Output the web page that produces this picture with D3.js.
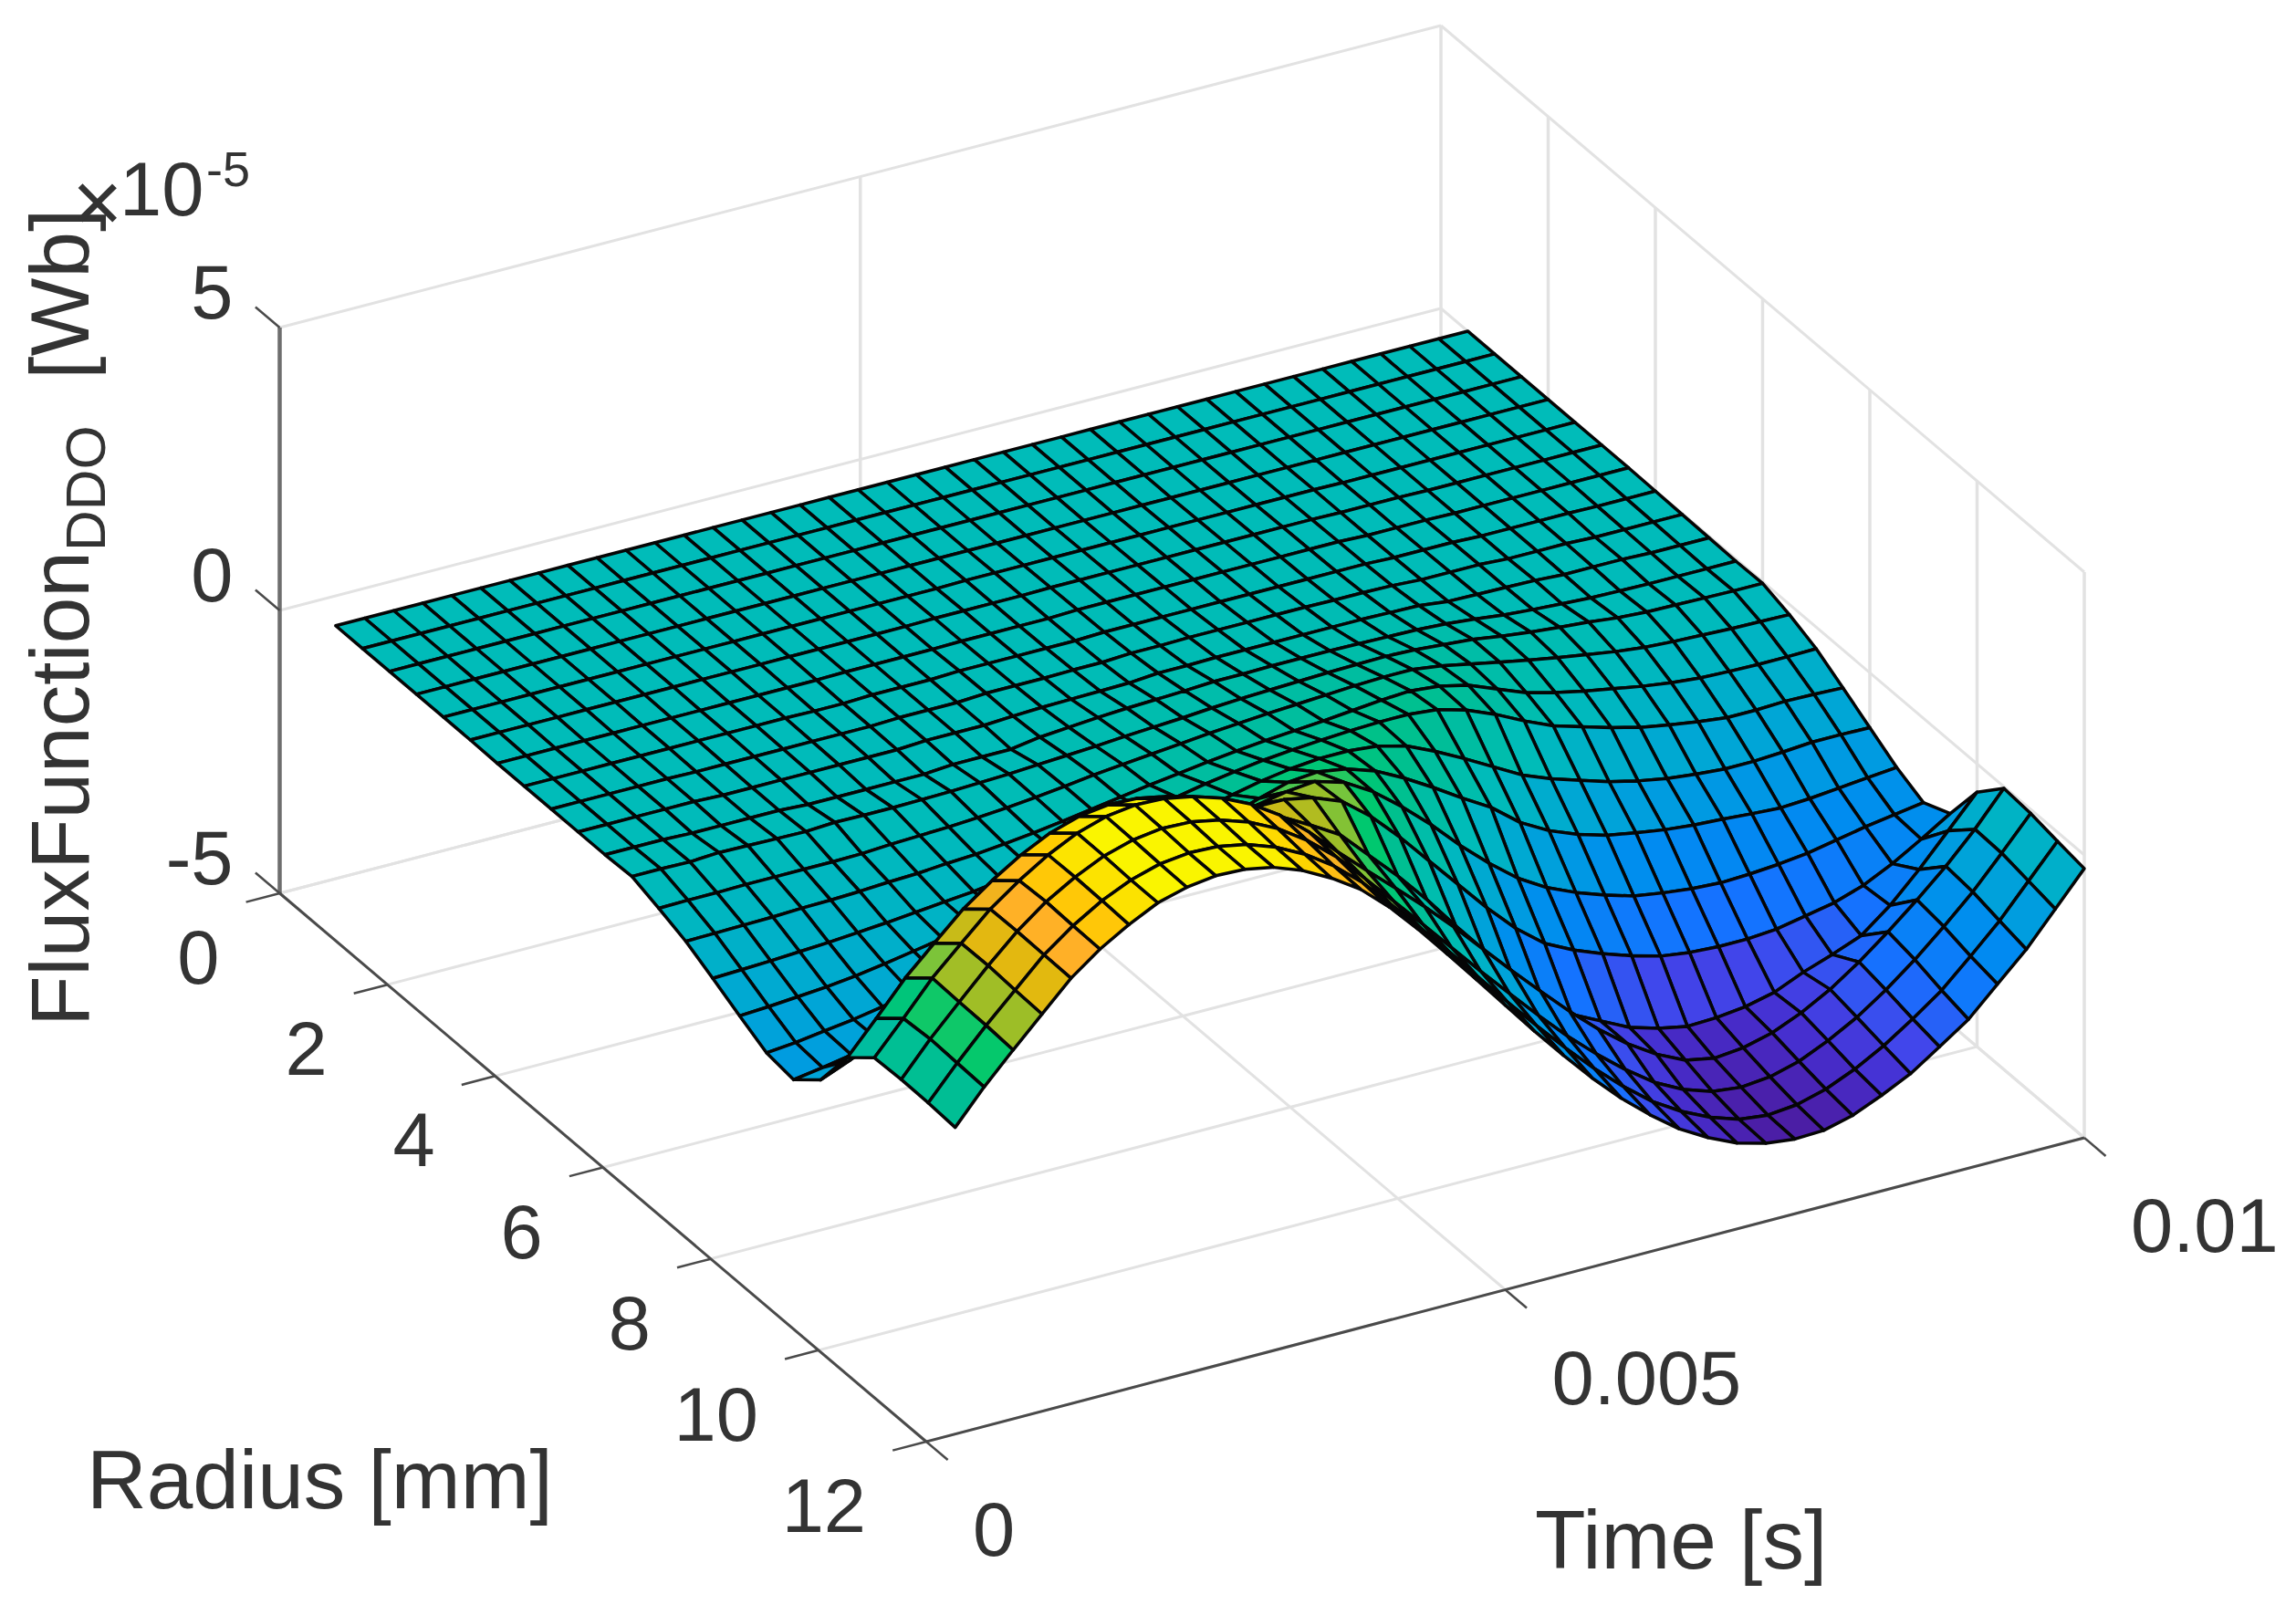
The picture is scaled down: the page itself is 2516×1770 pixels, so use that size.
<!DOCTYPE html>
<html lang='en'>
<head>
<meta http-equiv='Content-Type' content='text/html;charset=utf-8'/>
<title>FluxFunction DDO surface</title>
<script src='https://d3js.org/d3.v7.min.js'></script>
<style>
  body { margin: 0; background: #fff; }
  text { font-family: 'Liberation Sans', Arial, sans-serif; fill: #333; }
</style>
</head>
<body>
<script>
'use strict'
// mesh nodes
const radiusMm = [0.5,1,1.5,2,2.5,3,3.5,4,4.5,5,5.5,6,6.5,7,7.5,8,8.5,9,9.5,10,10.5,11,11.5,12]
const timeSec = [0.00025,0.0005,0.00075,0.001,0.00125,0.0015,0.00175,0.002,0.00225,0.0025,
  0.00275,0.003,0.00325,0.0035,0.00375,0.004,0.00425,0.0045,0.00475,0.005,
  0.00525,0.0055,0.00575,0.006,0.00625,0.0065,0.00675,0.007,0.00725,0.0075,
  0.00775,0.008,0.00825,0.0085,0.00875,0.009,0.00925,0.0095,0.00975,0.01]

// flux in units of 1e-5 Wb, one row per radius, one value per time
const flux = [
  [0,0,0,0,0,0,0,0,0,0,0,0,0,0,0,0,0,0,0,0,0,0,0,0,0,0,0,0,0,0,0,0,0,0,0,0,0,0,0,0],
  [0,0,0,0,0,0,0,0,0,0,0,0,0,0,0,0,0,0,0,0,0,0,0,0,0,0,0,0,0,0,0,0,0,0,0,0,0,0,0,0],
  [0,0,0,0,0,0,0,0,0,0,0,0,0,0,0,0,0,0,0,0,0,0,0,0,0,0,0,0,0,0,0,0,0,0,0,0,0,0,0,0],
  [0,0,0,0,0,0,0,0,0,0,0,0,0,0,0,0,0,0,0,0,0,0,0,0,0,0,0,0,0,0,0,0,0,0,0,0,0,0,0,0],
  [0,0,0,0,0,0,0,0,0,0,0,0,0,0,0,0,0,0,.01,.01,.01,.01,.01,.01,.01,.01,.01,.01,.01,.01,.01,0,0,0,0,0,0,0,0,0],
  [0,0,0,0,0,0,0,0,0,0,0,0,0,0,0,0,.01,.01,.01,.01,.02,.02,.02,.02,.02,.02,.02,.02,.02,.02,.01,.01,.01,0,0,0,0,0,0,0],
  [-.01,-.01,-.01,-.01,-.01,-.01,-.01,-.01,-.01,-.01,-.01,-.01,0,0,0,0,.01,.01,.01,.01,.03,.03,.03,.03,.03,.03,.03,.03,.03,.03,.01,.01,.01,0,0,0,0,0,0,0],
  [-.01,-.01,-.01,-.01,-.01,-.01,-.01,-.01,-.01,-.01,-.02,-.02,0,0,0,.02,.02,.02,.02,.02,.04,.04,.04,.04,.04,.04,.04,.04,.04,.04,.02,.02,.02,0,0,0,0,-.01,-.01,-.01],
  [-.01,-.01,-.01,-.01,-.01,-.02,-.02,-.02,-.02,-.02,-.02,-.02,0,0,0,.03,.03,.03,.04,.04,.07,.07,.08,.08,.08,.08,.08,.07,.07,.06,.03,.03,.03,0,0,0,-.02,-.02,-.02,-.02],
  [-.01,-.01,-.01,-.01,-.01,-.03,-.03,-.03,-.03,-.03,-.03,-.03,0,0,0,.03,.05,.06,.07,.08,.12,.12,.13,.13,.13,.13,.13,.13,.12,.11,.05,.04,.03,.02,-.01,-.01,-.01,-.03,-.03,-.03],
  [-.01,-.01,-.01,-.03,-.03,-.03,-.03,-.06,-.06,-.06,-.06,-.06,-.02,-.02,-.02,.06,.1,.14,.17,.19,.21,.24,.24,.25,.25,.25,.24,.23,.22,.19,.14,.08,.04,.01,-.02,-.03,-.04,-.04,-.04,-.04],
  [.01,.01,0,.03,.02,.01,0,.03,.02,.02,.03,.04,.06,.08,.11,.14,.17,.21,.24,.27,.31,.34,.36,.38,.4,.41,.42,.4,.36,.32,.24,.18,.13,.09,.03,0,-.01,-.02,-.03,-.03],
  [-.15,-.14,-.14,-.13,-.13,-.13,-.13,-.12,-.09,-.07,-.05,-.02,.02,.07,.13,.2,.25,.3,.35,.4,.44,.48,.51,.54,.57,.59,.59,.52,.42,.32,.22,.13,.05,-.03,-.09,-.12,-.14,-.16,-.17,-.18],
  [-.33,-.32,-.31,-.3,-.28,-.27,-.25,-.22,-.2,-.16,-.13,-.08,-.02,.05,.13,.21,.29,.36,.43,.49,.54,.58,.62,.67,.72,.75,.7,.58,.38,.18,.05,-.06,-.15,-.24,-.31,-.36,-.38,-.39,-.39,-.38],
  [-.58,-.56,-.54,-.51,-.48,-.44,-.4,-.35,-.3,-.25,-.18,-.1,0,.12,.25,.37,.48,.58,.66,.73,.78,.82,.85,.87,.87,.82,.68,.47,.22,0,-.15,-.3,-.43,-.52,-.6,-.66,-.66,-.64,-.65,-.67],
  [-.84,-.81,-.77,-.73,-.67,-.59,-.5,-.41,-.31,-.23,-.14,-.03,.1,.24,.38,.52,.66,.79,.9,.98,1.03,1.03,.98,.85,.62,.36,.08,-.2,-.4,-.56,-.72,-.84,-.93,-.99,-1.03,-1.03,-1,-.96,-.96,-.97],
  [-1.09,-1.04,-.97,-.9,-.81,-.69,-.56,-.43,-.3,-.16,0,.14,.28,.44,.6,.78,.96,1.13,1.28,1.33,1.25,1.08,.82,.52,.2,-.1,-.5,-.78,-.98,-1.13,-1.22,-1.3,-1.35,-1.38,-1.42,-1.45,-1.42,-1.37,-1.32,-1.27],
  [-1.16,-1.08,-.99,-.89,-.78,-.59,-.38,-.16,.08,.35,.55,.75,.95,1.13,1.3,1.42,1.55,1.65,1.7,1.55,1.25,.85,.4,-.1,-.55,-.95,-1.25,-1.47,-1.65,-1.8,-1.88,-1.94,-1.97,-1.95,-1.91,-1.85,-1.75,-1.65,-1.57,-1.49],
  [-.76,-.55,-.32,-.07,.2,.48,.78,1.06,1.33,1.57,1.75,1.87,1.9,1.97,2,2.05,2.05,1.95,1.75,1.35,.85,.3,-.25,-.8,-1.3,-1.7,-1.95,-2.15,-2.32,-2.46,-2.53,-2.56,-2.56,-2.52,-2.42,-2.32,-2.15,-1.9,-1.6,-1.28],
  [.04,.6,1.18,1.66,2.13,2.5,2.82,3.07,3.23,3.3,3.28,3.18,3,2.78,2.52,2.28,2,1.7,1.2,.7,.15,-.45,-1.05,-1.65,-2.15,-2.55,-2.8,-3.05,-3.2,-3.3,-3.28,-3.22,-3.1,-2.88,-2.7,-2.5,-2.1,-1.6,-1.05,-.5],
  [.44,1,1.58,2.06,2.53,2.9,3.22,3.47,3.63,3.7,3.68,3.58,3.42,3.18,2.85,2.42,1.93,1.47,1.02,.56,.07,-.45,-.97,-1.47,-1.96,-2.41,-2.8,-3.12,-3.36,-3.46,-3.41,-3.28,-3.06,-2.78,-2.43,-2.03,-1.6,-1.14,-.62,-.03],
  [.46,1.04,1.56,2.07,2.54,2.93,3.23,3.47,3.62,3.69,3.67,3.57,3.4,3.15,2.81,2.39,1.87,1.33,.79,.24,-.31,-.84,-1.36,-1.86,-2.31,-2.72,-3.08,-3.34,-3.51,-3.57,-3.52,-3.38,-3.15,-2.87,-2.52,-2.12,-1.67,-1.19,-.64,-.07],
  [.45,1.02,1.55,2.04,2.53,2.91,3.22,3.45,3.6,3.66,3.64,3.54,3.36,3.1,2.76,2.33,1.8,1.26,.7,.12,-.45,-1,-1.53,-2.03,-2.48,-2.88,-3.19,-3.43,-3.6,-3.66,-3.61,-3.47,-3.25,-2.97,-2.63,-2.26,-1.79,-1.3,-.73,-.16],
  [.42,1,1.52,2.02,2.52,2.9,3.2,3.45,3.59,3.66,3.64,3.54,3.35,3.08,2.75,2.3,1.77,1.2,.62,.03,-.56,-1.12,-1.66,-2.15,-2.58,-2.96,-3.25,-3.48,-3.62,-3.68,-3.66,-3.53,-3.31,-3.06,-2.72,-2.37,-1.88,-1.4,-.82,-.24]
]

// tick labels
const zTicks = [-5, 0, 5]
const radiusTicks = [0, 2, 4, 6, 8, 10, 12]
const timeTicks = [0, 0.005, 0.01]
const timeLabels = ['0', '0.005', '0.01']

// colormap stops
const colorStops = [-3.65,-3.25,-2.85,-2.25,-1.55,-.85,0,.7,1.26,1.5,1.77,2.27,2.7,3.15,3.5]
const colorRamp = ['#4b1ea5','#462dcd','#4146eb','#1473ff','#008cf0','#00a5d7','#00bcb9','#00be96','#00c86e',
  '#64c846','#9bbe28','#e1b90f','#ffaf28','#ffcd00','#faf500']

const width = 2516
const height = 1770

// pixel corners of the floor (z = -5) of the axes box
const cornerA = [306.5, 979]   // radius 0,  time 0
const cornerB = [1015, 1580]   // radius 12, time 0
const cornerC = [2284, 1247]   // radius 12, time 0.01
const cornerD = [1579, 648]    // radius 0,  time 0.01

const rScale = d3.scaleLinear().domain([0, 12]).range([0, 1])
const tScale = d3.scaleLinear().domain([0, 0.01]).range([0, 1])
const zScale = d3.scaleLinear().domain([-5, 5]).range([0, 620])
const colorScale = d3.scaleLinear().domain(colorStops).range(colorRamp).clamp(true)

function project(r, t, z)
{
  const u = rScale(r)
  const v = tScale(t)
  const xy = [0, 1].map(k =>
    cornerA[k] * (1 - u) * (1 - v) + cornerB[k] * u * (1 - v) +
    cornerC[k] * u * v + cornerD[k] * (1 - u) * v)
  return [xy[0], xy[1] - zScale(z)]
}

const svg = d3.select('body').append('svg')
  .attr('width', width)
  .attr('height', height)
  .style('display', 'block')

const line = d3.line()

function segment(group, a, b, color, w)
{
  group.append('path')
    .attr('d', line([project(...a), project(...b)]))
    .attr('fill', 'none')
    .attr('stroke', color)
    .attr('stroke-width', w)
}

// grid on the back walls and floor
const grid = svg.append('g')
const gridColor = '#e2e2e2'
zTicks.forEach(z => {
  segment(grid, [0, 0, z], [0, 0.01, z], gridColor, 3)
  segment(grid, [0, 0.01, z], [12, 0.01, z], gridColor, 3)
})
radiusTicks.forEach(r => {
  segment(grid, [r, 0, -5], [r, 0.01, -5], gridColor, 3)
  if (r > 0) segment(grid, [r, 0.01, -5], [r, 0.01, 5], gridColor, 3.5)
})
timeTicks.forEach(t => {
  segment(grid, [0, t, -5], [12, t, -5], gridColor, 3)
  if (t > 0) segment(grid, [0, t, -5], [0, t, 5], gridColor, 3.5)
})

// axis lines and ticks
const axes = svg.append('g')
const axisColor = '#4a4a4a'
segment(axes, [0, 0, -5], [0, 0, 5], '#6e6e6e', 4.5)
segment(axes, [0, 0, -5], [12, 0, -5], axisColor, 3)
segment(axes, [12, 0, -5], [12, 0.01, -5], axisColor, 3)
zTicks.forEach(z => segment(axes, [0, 0, z], [-0.45, 0, z], axisColor, 2.5))
radiusTicks.forEach(r => segment(axes, [r, 0, -5], [r, -0.00029, -5], axisColor, 2.5))
timeTicks.forEach(t => segment(axes, [12, t, -5], [12.4, t, -5], axisColor, 2.5))

// surface: back rows first, far time first, so nearer cells cover farther ones
const cells = []
d3.range(radiusMm.length - 1).forEach(i => {
  d3.range(timeSec.length - 2, -1, -1).forEach(j => {
    cells.push({i: i, j: j})
  })
})

svg.append('g').selectAll('path')
  .data(cells)
  .join('path')
  .attr('d', d => line([
    project(radiusMm[d.i], timeSec[d.j], flux[d.i][d.j]),
    project(radiusMm[d.i + 1], timeSec[d.j], flux[d.i + 1][d.j]),
    project(radiusMm[d.i + 1], timeSec[d.j + 1], flux[d.i + 1][d.j + 1]),
    project(radiusMm[d.i], timeSec[d.j + 1], flux[d.i][d.j + 1])
  ]) + 'Z')
  .attr('fill', d => colorScale((flux[d.i][d.j] + flux[d.i + 1][d.j] + flux[d.i + 1][d.j + 1] + flux[d.i][d.j + 1]) / 4))
  .attr('stroke', '#050505')
  .attr('stroke-width', 3.5)
  .attr('stroke-linejoin', 'round')

// tick labels
const labels = svg.append('g').attr('font-size', 83)
zTicks.forEach(z => {
  const p = project(0, 0, z)
  labels.append('text').attr('x', p[0] - 51).attr('y', p[1] - 10)
    .attr('text-anchor', 'end').text(z)
})
radiusTicks.forEach(r => {
  const p = project(r, 0, -5)
  labels.append('text').attr('x', p[0] - 66).attr('y', p[1] + 99)
    .attr('text-anchor', 'end').text(r)
})
timeTicks.forEach((t, k) => {
  const p = project(12, t, -5)
  labels.append('text').attr('x', p[0] + 51).attr('y', p[1] + 125)
    .text(timeLabels[k])
})

// axis labels
svg.append('text').attr('x', 95).attr('y', 1653).attr('font-size', 91).text('Radius [mm]')
svg.append('text').attr('x', 1682).attr('y', 1719).attr('font-size', 91).text('Time [s]')

const yLabel = svg.append('text')
  .attr('transform', 'translate(97,1125) rotate(-90)')
  .attr('font-size', 91)
yLabel.append('tspan').text('FluxFunction')
yLabel.append('tspan').attr('font-size', 62).attr('dy', 18).text('DDO')
yLabel.append('tspan').attr('dy', -18).attr('xml:space', 'preserve').text('\u00a0\u00a0[Wb]')

// exponent
svg.append('text').attr('x', 79).attr('y', 254).attr('font-size', 95).text('\u00d7')
svg.append('text').attr('x', 131).attr('y', 236).attr('font-size', 83).text('10')
svg.append('text').attr('x', 226).attr('y', 204).attr('font-size', 54).text('-5')
</script>
</body>
</html>
